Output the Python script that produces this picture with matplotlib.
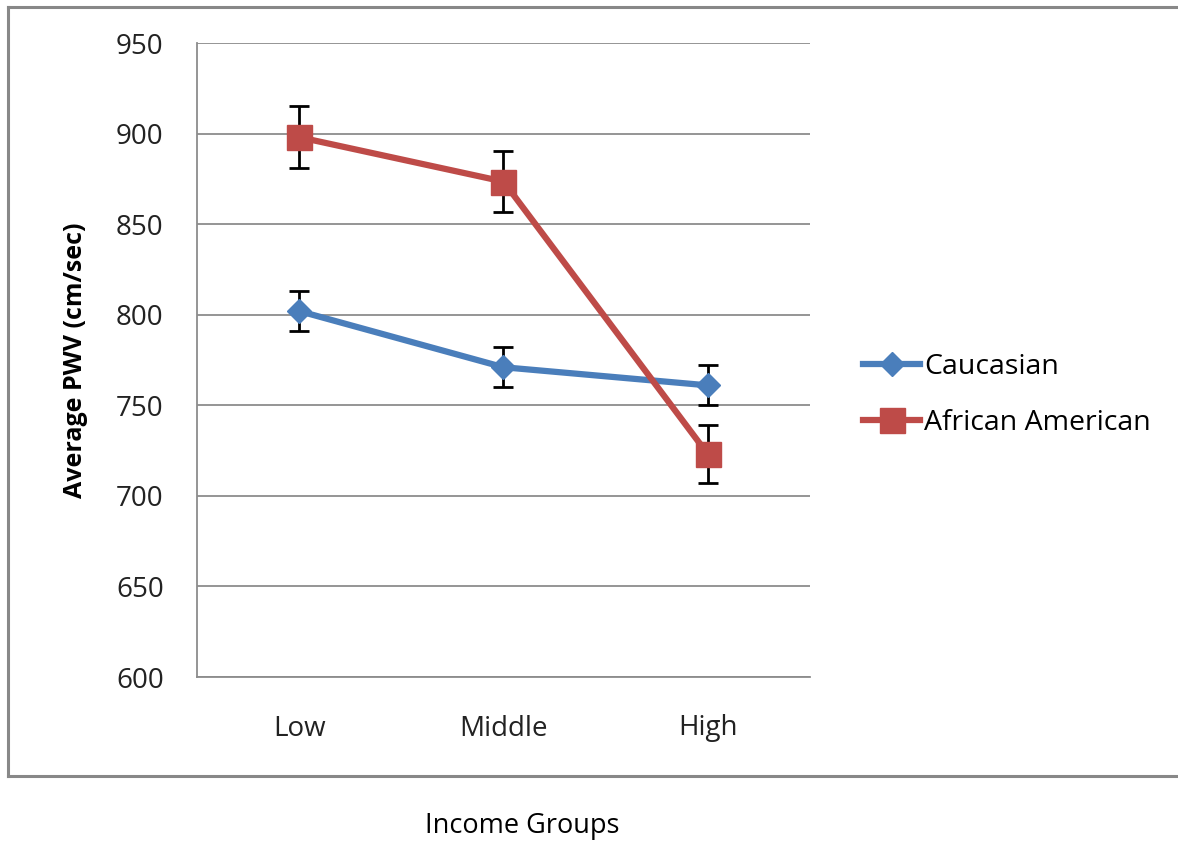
import matplotlib
matplotlib.use("Agg")
import matplotlib.pyplot as plt
from matplotlib.lines import Line2D

# Average pulse wave velocity by income group
groups = ["Low", "Middle", "High"]
caucasian = [802, 771, 761]
caucasian_err = [11, 11, 11]
african_american = [898, 873.5, 723]
african_american_err = [17, 17, 16]

plt.rcParams['font.family'] = ['Open Sans', 'DejaVu Sans']

W, H = 1178, 843
fig = plt.figure(figsize=(W / 100, H / 100), dpi=100)
ax = fig.add_axes([197 / W, 1 - 677 / H, (810 - 197) / W, (677 - 43) / H])

x = range(len(groups))
blue = '#4A7EBB'
red = '#BE4B48'

ax.errorbar(x, caucasian, yerr=caucasian_err, color=blue, lw=4.5,
            marker='D', ms=12, ecolor='black', elinewidth=2, capsize=7,
            capthick=2, label='Caucasian', zorder=3)
ax.errorbar(x, african_american, yerr=african_american_err, color=red, lw=4.5,
            marker='s', ms=18, ecolor='black', elinewidth=2, capsize=7,
            capthick=2, label='African American', zorder=3)

ax.set_xlim(-0.5, 2.5)
ax.set_ylim(600, 950)
ax.set_yticks(range(600, 951, 50))
ax.set_xticks(list(x))
ax.set_xticklabels(groups)
ax.tick_params(length=0, labelsize=20, colors='#222222')
ax.tick_params(axis='y', pad=24)
ax.tick_params(axis='x', pad=27)
ax.grid(axis='y', color='#8c8c8c', lw=1.3)
ax.set_axisbelow(True)
for side in ['top', 'right']:
    ax.spines[side].set_visible(False)
for side in ['left', 'bottom']:
    ax.spines[side].set_color('#8c8c8c')
    ax.spines[side].set_linewidth(1.3)

ax.set_ylabel('Average PWV (cm/sec)', fontsize=18, fontweight='bold', labelpad=20)
fig.text(522 / W, 1 - 826 / H, 'Income Groups', fontsize=19.5,
         ha='center', va='center')

handles, labels = ax.get_legend_handles_labels()
handles = [h[0] for h in handles]
ax.legend(handles, labels, loc='center left', bbox_to_anchor=(1.045, 0.445),
          frameon=False, fontsize=20.5, handlelength=2.0, handletextpad=0.15,
          labelspacing=1.0)

# chart frame (left, top, bottom edges)
fc = '#888888'
fig.add_artist(Line2D([8 / W, 8 / W], [1 - 7 / H, 1 - 776 / H], color=fc, lw=2.2))
fig.add_artist(Line2D([8 / W, 1], [1 - 7 / H, 1 - 7 / H], color=fc, lw=2.2))
fig.add_artist(Line2D([8 / W, 1], [1 - 776 / H, 1 - 776 / H], color=fc, lw=2.2))

fig.savefig('out.png', dpi=100)
